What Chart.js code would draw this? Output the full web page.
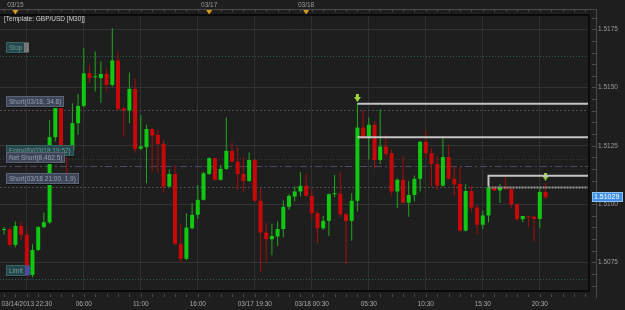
<!DOCTYPE html>
<html>
<head>
<meta charset="utf-8">
<script src="https://cdn.jsdelivr.net/npm/chart.js@4.4.1/dist/chart.umd.min.js"></script>
<style>
  html, body { margin: 0; padding: 0; background: #1e1e1e; }
  #wrap { position: relative; width: 625px; height: 310px; }
</style>
</head>
<body>
<div id="wrap"><canvas id="chart"></canvas></div>
<script>
// ── GBP/USD M30 candles ─────────────────────────────────────────────
const opens = [
  1.50889, 1.50892, 1.50825, 1.50906, 1.50868, 1.50696, 1.50803, 1.50901, 1.50921, 1.51287,
  1.51415, 1.51232, 1.51232, 1.51347, 1.51421, 1.51561, 1.51544, 1.51540, 1.51558, 1.51511,
  1.51616, 1.51410, 1.51401, 1.51494, 1.51238, 1.51244, 1.51322, 1.51297, 1.51258, 1.51075,
  1.51129, 1.50829, 1.50765, 1.50896, 1.50954, 1.51018, 1.51129, 1.51197, 1.51104, 1.51151,
  1.51228, 1.51182, 1.51129, 1.51099, 1.51189, 1.51014, 1.50878, 1.50849, 1.50861, 1.50893,
  1.50988, 1.51032, 1.51054, 1.51078, 1.51035, 1.50961, 1.50896, 1.50928, 1.51042, 1.51044,
  1.50956, 1.50928, 1.51014, 1.51328, 1.51282, 1.51340, 1.51189, 1.51247, 1.51218, 1.51054,
  1.51104, 1.51006, 1.51039, 1.51108, 1.51267, 1.51218, 1.51172, 1.51079, 1.51202, 1.51108,
  1.51086, 1.50886, 1.51056, 1.50985, 1.50911, 1.50951, 1.51072, 1.51058, 1.51072, 1.51065,
  1.50999, 1.50935, 1.50946, 1.50946, 1.50936, 1.51052
];
const highs = [
  1.50903, 1.50903, 1.50925, 1.50925, 1.50889, 1.50828, 1.50906, 1.50963, 1.51361, 1.51440,
  1.51432, 1.51239, 1.51432, 1.51473, 1.51668, 1.51597, 1.51654, 1.51611, 1.51583, 1.51754,
  1.51654, 1.51418, 1.51564, 1.51540, 1.51382, 1.51340, 1.51325, 1.51318, 1.51275, 1.51149,
  1.51165, 1.50915, 1.50961, 1.51006, 1.51082, 1.51139, 1.51201, 1.51199, 1.51168, 1.51371,
  1.51264, 1.51247, 1.51201, 1.51221, 1.51192, 1.51068, 1.50918, 1.50915, 1.50925, 1.51015,
  1.51042, 1.51075, 1.51137, 1.51129, 1.51068, 1.50968, 1.50949, 1.51046, 1.51125, 1.51139,
  1.50963, 1.51046, 1.51432, 1.51401, 1.51371, 1.51357, 1.51407, 1.51297, 1.51235, 1.51111,
  1.51207, 1.51099, 1.51122, 1.51272, 1.51318, 1.51239, 1.51207, 1.51287, 1.51254, 1.51161,
  1.51161, 1.51086, 1.51078, 1.50996, 1.50972, 1.51121, 1.51078, 1.51086, 1.51115, 1.51068,
  1.51004, 1.50949, 1.50949, 1.50949, 1.51068, 1.51089
];
const lows = [
  1.50868, 1.50818, 1.50815, 1.50846, 1.50682, 1.50686, 1.50799, 1.50896, 1.50915, 1.51268,
  1.51182, 1.51132, 1.51225, 1.51297, 1.51415, 1.51518, 1.51483, 1.51435, 1.51483, 1.51504,
  1.51404, 1.51289, 1.51347, 1.51221, 1.51232, 1.51089, 1.51139, 1.51132, 1.51049, 1.51072,
  1.50825, 1.50749, 1.50760, 1.50892, 1.50936, 1.51015, 1.51125, 1.51101, 1.51101, 1.51146,
  1.51179, 1.51061, 1.51054, 1.51096, 1.51011, 1.50710, 1.50749, 1.50780, 1.50820, 1.50858,
  1.50975, 1.51011, 1.51032, 1.51032, 1.50935, 1.50832, 1.50889, 1.50863, 1.51028, 1.50943,
  1.50743, 1.50843, 1.50968, 1.51278, 1.51192, 1.51154, 1.51172, 1.51199, 1.51035, 1.50982,
  1.51001, 1.50946, 1.51011, 1.51054, 1.51197, 1.51075, 1.51061, 1.51075, 1.51104, 1.51032,
  1.50882, 1.50882, 1.50968, 1.50868, 1.50892, 1.50922, 1.51055, 1.51004, 1.51061, 1.50982,
  1.50929, 1.50922, 1.50903, 1.50839, 1.50896, 1.51022
];
const closes = [
  1.50892, 1.50825, 1.50906, 1.50868, 1.50696, 1.50803, 1.50901, 1.50922, 1.51287, 1.51415,
  1.51189, 1.51218, 1.51347, 1.51421, 1.51561, 1.51540, 1.51545, 1.51558, 1.51511, 1.51616,
  1.51407, 1.51401, 1.51494, 1.51237, 1.51247, 1.51322, 1.51294, 1.51258, 1.51075, 1.51129,
  1.50829, 1.50765, 1.50899, 1.50954, 1.51018, 1.51132, 1.51197, 1.51104, 1.51151, 1.51228,
  1.51182, 1.51129, 1.51099, 1.51189, 1.51014, 1.50878, 1.50849, 1.50863, 1.50893, 1.50988,
  1.51035, 1.51054, 1.51078, 1.51035, 1.50961, 1.50896, 1.50928, 1.51042, 1.51045, 1.50956,
  1.50928, 1.51014, 1.51328, 1.51282, 1.51340, 1.51189, 1.51247, 1.51215, 1.51054, 1.51104,
  1.51006, 1.51039, 1.51108, 1.51267, 1.51218, 1.51172, 1.51079, 1.51202, 1.51108, 1.51084,
  1.50886, 1.51056, 1.50985, 1.50911, 1.50951, 1.51072, 1.51058, 1.51072, 1.51065, 1.50999,
  1.50935, 1.50949, 1.50943, 1.50936, 1.51052, 1.51029
];

// axis ticks
const xTickPos = [4, 14, 24, 34, 44, 54, 64, 74, 84, 94];
const xTickLabels = ['03/14/2013 22:30', '06:00', '11:00', '16:00', '03/17 19:30',
                     '03/18 00:30', '05:30', '10:30', '15:30', '20:30'];
const yTicks = [1.5075, 1.5100, 1.5125, 1.5150, 1.5175];
const topDatePos = [2, 36, 53];
const topDateLabels = ['03/15', '03/17', '03/18'];

// order levels on the left
const levelNames = ['Stop', 'Short(03/18, 34.8)', 'Entry(8)(03/18 19:52)', 'Net Short(8,462.5)',
                    'Short(03/18 21:00, 1.9)', 'Limit'];
const levelPrices = [1.51636, 1.51404, 1.51192, 1.51164, 1.51075, 1.50677];

// horizontal drawn lines (start index, price)
const hlineStarts = [62, 62, 85];
const hlinePrices = [1.51430, 1.51287, 1.51121];
// down arrows (index, price)
const arrowPos = [62, 95];
const arrowPrices = [1.51455, 1.51118];

const X_MIN = -0.7, X_MAX = 102.63;
const Y_MIN = 1.50627, Y_MAX = 1.51811;

const GREEN = '#10c810', RED = '#c80808';
const GREEN_WICK = '#20a820', RED_WICK = '#a80c0c';
const FONT = "'Liberation Sans', Arial, sans-serif";
const FSIZE = 6.5;

const up = opens.map((o, i) => closes[i] >= o);
const bodyData = opens.map((o, i) => ({ x: i, y: [Math.min(o, closes[i]), Math.max(o, closes[i])] }));
const wickData = opens.map((o, i) => ({ x: i, y: [lows[i], highs[i]] }));

// small green down-arrow marker
function makeArrow() {
    const c = document.createElement('canvas');
    c.width = 7; c.height = 8;
    const g = c.getContext('2d');
    g.fillStyle = '#9ad83e';
    g.beginPath();
    g.moveTo(2, 0); g.lineTo(5, 0); g.lineTo(5, 3); g.lineTo(7, 3);
    g.lineTo(3.5, 8); g.lineTo(0, 3); g.lineTo(2, 3);
    g.closePath();
    g.fill();
    return c;
}

const lineDatasets = hlineStarts.map((s, k) => ({
    type: 'line',
    data: k === 2
        ? [{ x: s, y: levelPrices[4] }, { x: s, y: hlinePrices[k] }, { x: X_MAX, y: hlinePrices[k] }]
        : [{ x: s, y: hlinePrices[k] }, { x: X_MAX, y: hlinePrices[k] }],
    borderColor: '#c4c4c4',
    borderWidth: 2,
    pointRadius: 0,
    tension: 0,
    order: 0,
}));

function drawTag(ctx, text, x0, yLine, teal, square) {
    ctx.font = FSIZE + 'px ' + FONT;
    const tw = ctx.measureText(text).width;
    const w = Math.round(tw + 6), top = Math.round(yLine - 14) + 0.5;
    ctx.fillStyle = teal ? '#24474a' : '#3e4556';
    ctx.fillRect(x0, top, w, 10);
    ctx.strokeStyle = teal ? '#3a6366' : '#5a6479';
    ctx.lineWidth = 1;
    ctx.strokeRect(x0 + 0.5, top, w - 1, 10);
    ctx.fillStyle = '#101010';
    ctx.fillRect(x0 + 1, top + 10.5, w, 1);
    if (square) {
        ctx.fillStyle = square;
        ctx.fillRect(x0 + w - 1, top, 5, 10);
    }
    ctx.fillStyle = teal ? '#6f9c9c' : '#97a0b2';
    ctx.textBaseline = 'middle';
    ctx.textAlign = 'left';
    ctx.fillText(text, x0 + 3, top + 5.5);
}

const decor = {
    id: 'decor',
    beforeDraw(chart) {
        const { ctx } = chart;
        ctx.save();
        ctx.fillStyle = '#1e1e1e';
        ctx.fillRect(0, 0, chart.width, chart.height);
        ctx.restore();
    },
    beforeDatasetsDraw(chart) {
        const { ctx, chartArea: a, scales: { y } } = chart;
        const styles = [
            ['#2f5e58', [1, 2]], ['#4c4c4c', [2, 2]], ['#3a3a3a', [1, 2]],
            ['#4d4a63', [7, 3, 2, 3]], ['#4f4f4f', [2, 2]], ['#2f5e58', [1, 2]],
        ];
        ctx.save();
        ctx.lineWidth = 1;
        levelPrices.forEach((p, k) => {
            const py = Math.round(y.getPixelForValue(p)) + 0.5;
            ctx.strokeStyle = styles[k][0];
            ctx.setLineDash(styles[k][1]);
            ctx.beginPath();
            ctx.moveTo(a.left, py);
            ctx.lineTo(a.right, py);
            ctx.stroke();
        });
        ctx.restore();
    },
    afterDatasetsDraw(chart) {
        const { ctx, scales: { x, y } } = chart;
        ctx.save();
        // brighter dashes on the short level after the last drawn line
        const py = Math.round(y.getPixelForValue(levelPrices[4])) + 0.5;
        ctx.strokeStyle = '#9a9a9a';
        ctx.lineWidth = 2;
        ctx.setLineDash([2, 1]);
        ctx.beginPath();
        ctx.moveTo(x.getPixelForValue(hlineStarts[2]), py);
        ctx.lineTo(chart.chartArea.right, py);
        ctx.stroke();
        ctx.setLineDash([]);
        // tags
        const tagStyle = [[true, '#777'], [false, null], [true, null], [false, null], [false, null], [true, '#4b4ba0']];
        levelNames.forEach((t, k) => {
            drawTag(ctx, t, 6, y.getPixelForValue(levelPrices[k]), tagStyle[k][0], tagStyle[k][1]);
        });
        ctx.restore();
    },
    afterDraw(chart) {
        const { ctx, chartArea: a, scales: { x, y } } = chart;
        ctx.save();
        // plot frame
        ctx.strokeStyle = '#0a0a0a';
        ctx.lineWidth = 2;
        ctx.beginPath();
        ctx.moveTo(0, a.top); ctx.lineTo(a.right, a.top); ctx.lineTo(a.right, a.bottom); ctx.lineTo(0, a.bottom);
        ctx.stroke();

        // top date strip
        ctx.lineWidth = 1;
        ctx.strokeStyle = '#4a4a4a';
        ctx.beginPath();
        ctx.moveTo(0, 9.5); ctx.lineTo(597, 9.5);
        for (let i = 0; i <= 102; i += 2) {
            const px = Math.round(x.getPixelForValue(i)) + 0.5;
            ctx.moveTo(px, 9.5); ctx.lineTo(px, 12);
        }
        ctx.stroke();
        ctx.font = FSIZE + 'px ' + FONT;
        ctx.textAlign = 'center';
        ctx.textBaseline = 'middle';
        topDateLabels.forEach((d, k) => {
            const px = x.getPixelForValue(topDatePos[k]);
            ctx.fillStyle = '#9c9c9c';
            ctx.fillText(d, px, 5);
            ctx.fillStyle = '#d89c1c';
            ctx.beginPath();
            ctx.moveTo(px - 3, 10); ctx.lineTo(px + 3, 10); ctx.lineTo(px, 14.5);
            ctx.closePath();
            ctx.fill();
        });

        // template caption
        ctx.textAlign = 'left';
        ctx.fillStyle = '#d2d2d2';
        ctx.fillText('[Template: GBP/USD [M30]]', 4, 19.5);

        // right axis line and minor ticks
        ctx.strokeStyle = '#4a4a4a';
        ctx.beginPath();
        ctx.moveTo(596.5, 9.5); ctx.lineTo(596.5, 298);
        for (let v = 1.5065; v <= 1.5181; v += 0.0005) {
            const py = Math.round(y.getPixelForValue(v)) + 0.5;
            ctx.moveTo(592, py); ctx.lineTo(596.5, py);
        }
        ctx.stroke();

        // bottom axis ticks
        ctx.beginPath();
        for (let i = 0; i <= 102; i += 2) {
            const px = Math.round(x.getPixelForValue(i)) + 0.5;
            ctx.moveTo(px, 294); ctx.lineTo(px, 297);
        }
        ctx.stroke();

        // current price tag
        const last = closes[closes.length - 1];
        const py = Math.round(y.getPixelForValue(last));
        ctx.fillStyle = '#3f8fe4';
        ctx.fillRect(592, py - 5, 31, 10);
        ctx.strokeStyle = '#8cc0f2';
        ctx.strokeRect(592.5, py - 4.5, 30, 9);
        ctx.fillStyle = '#ffffff';
        ctx.font = '7px ' + FONT;
        ctx.fillText(last.toFixed(5), 594, py + 0.5);
        ctx.restore();
    }
};

new Chart(document.getElementById('chart'), {
    type: 'bar',
    data: {
        datasets: [
            ...lineDatasets,
            {
                type: 'scatter',
                data: arrowPos.map((p, k) => ({ x: p, y: arrowPrices[k] })),
                pointStyle: makeArrow(),
                order: 0,
            },
            {
                label: 'body',
                data: bodyData,
                backgroundColor: up.map(u => u ? GREEN : RED),
                maxBarThickness: 4,
                minBarLength: 1,
                grouped: false,
                order: 1,
            },
            {
                label: 'wick',
                data: wickData,
                backgroundColor: up.map(u => u ? GREEN_WICK : RED_WICK),
                maxBarThickness: 1,
                grouped: false,
                order: 2,
            }
        ]
    },
    options: {
        responsive: true,
        maintainAspectRatio: false,
        animation: false,
        layout: { padding: { top: 15, left: 0, right: 0, bottom: 0 }, autoPadding: false },
        plugins: { legend: { display: false }, tooltip: { enabled: false } },
        scales: {
            x: {
                type: 'linear',
                min: X_MIN,
                max: X_MAX,
                offset: false,
                grid: { color: '#303030', offset: false, drawTicks: false },
                border: { display: false },
                afterBuildTicks: ax => { ax.ticks = xTickPos.map(v => ({ value: v })); },
                afterFit: ax => { ax.height = 19; ax.paddingLeft = 0; ax.paddingRight = 0; },
                ticks: {
                    callback: (v, i) => xTickLabels[i],
                    color: '#a8a8a8',
                    font: { family: FONT, size: FSIZE },
                    padding: 9,
                    maxRotation: 0,
                    autoSkip: false,
                }
            },
            y: {
                position: 'right',
                min: Y_MIN,
                max: Y_MAX,
                grid: { color: '#333333', drawTicks: false },
                border: { display: false },
                afterBuildTicks: ax => { ax.ticks = yTicks.map(v => ({ value: v })); },
                afterFit: ax => { ax.width = 36; ax.paddingTop = 0; ax.paddingBottom = 0; },
                ticks: {
                    callback: v => v.toFixed(4),
                    color: '#9a9a9a',
                    font: { family: FONT, size: FSIZE },
                    padding: 9,
                }
            }
        }
    },
    plugins: [decor]
});
</script>
</body>
</html>
